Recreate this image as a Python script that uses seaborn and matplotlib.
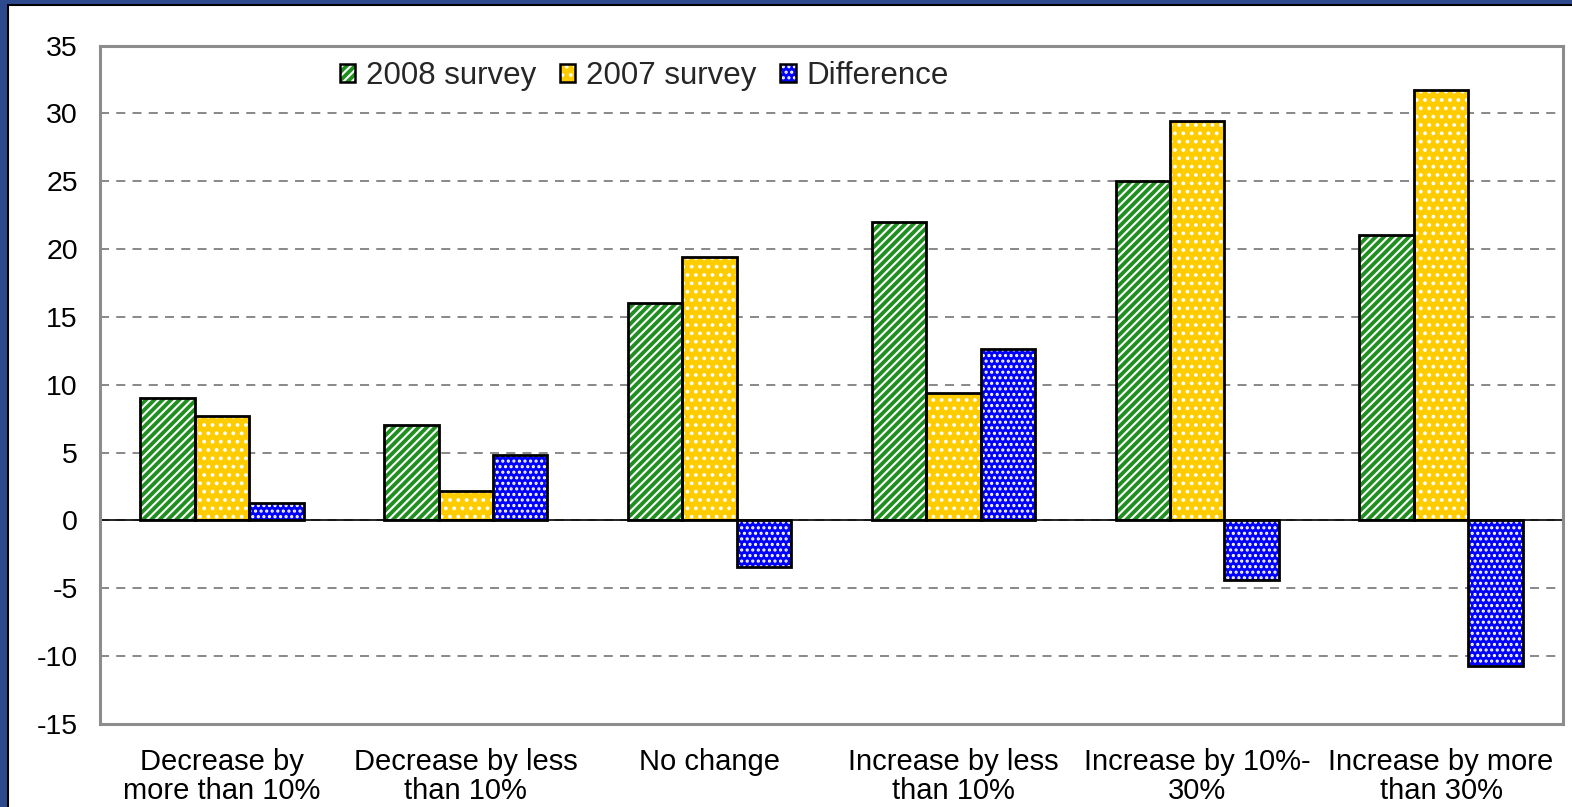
import matplotlib
matplotlib.use("Agg")
import matplotlib.pyplot as plt
from matplotlib.patches import Patch, Rectangle
import pandas as pd
import seaborn as sns

categories = [
    "Decrease by\nmore than 10%",
    "Decrease by less\nthan 10%",
    "No change",
    "Increase by less\nthan 10%",
    "Increase by 10%-\n30%",
    "Increase by more\nthan 30%",
]
series_names = ["2008 survey", "2007 survey", "Difference"]
survey_2008 = [9.0, 7.0, 16.0, 22.0, 25.0, 21.0]
survey_2007 = [7.7, 2.2, 19.4, 9.4, 29.4, 31.7]
difference = [1.3, 4.8, -3.4, 12.6, -4.4, -10.7]
y_ticks = [-15, -10, -5, 0, 5, 10, 15, 20, 25, 30, 35]

colors = ["#1f8f1f", "#ffcc00", "#0000ff"]
hatches = ["////", "..", "..."]

df = pd.DataFrame({
    "category": categories * 3,
    "series": [s for s in series_names for _ in categories],
    "value": survey_2008 + survey_2007 + difference,
})

sns.set_style("white")
plt.rcParams["font.family"] = ["Liberation Sans", "DejaVu Sans"]
plt.rcParams["hatch.linewidth"] = 1.5

fig = plt.figure(figsize=(15.72, 8.07), dpi=100)
fig.patch.set_facecolor("#2e4a8e")
# white slide panel with a thin dark frame on the left and top
W, H = 1572.0, 807.0
panel = Rectangle((8 / W, -0.01), 1.02, (H - 5) / H + 0.01, transform=fig.transFigure,
                  facecolor="white", edgecolor="black", linewidth=1.5, zorder=-5)
fig.add_artist(panel)

ax = fig.add_axes([100 / W, 1 - 724 / H, (1563 - 100) / W, (724 - 45.5) / H])
ax.set_facecolor("white")

sns.barplot(data=df, x="category", y="value", hue="series", hue_order=series_names,
            order=categories, palette=colors, width=0.67, legend=False, ax=ax,
            errorbar=None, saturation=1)

# hatched fills in white, with a black outline drawn on top of every bar
for i, cont in enumerate(ax.containers):
    for bar in cont:
        bar.set_facecolor(colors[i])
        bar.set_edgecolor("white")
        bar.set_linewidth(0)
        bar.set_hatch(hatches[i])
        outline = Rectangle(bar.get_xy(), bar.get_width(), bar.get_height(),
                            fill=False, edgecolor="black", linewidth=2.0, zorder=3)
        ax.add_patch(outline)

ax.set_ylim(-15, 35)
ax.set_yticks(y_ticks)
ax.set_yticklabels([str(t) for t in y_ticks])
ax.set_xlabel("")
ax.set_ylabel("")
ax.tick_params(axis="y", length=0, pad=16, labelsize=20.5, labelcolor="black")
ax.tick_params(axis="x", length=0, pad=17.5, labelsize=21, labelcolor="black")
for lab in ax.get_xticklabels():
    lab.set_linespacing(1.05)

ax.set_axisbelow(True)
ax.yaxis.grid(True, linestyle=(0, (5, 4)), color="#7f7f7f", linewidth=1.3)
ax.axhline(0, color="black", linewidth=1.2, zorder=1.5)

for sp in ax.spines.values():
    sp.set_visible(True)
    sp.set_color("#8c8c8c")
    sp.set_linewidth(2.2)

handles = []
for i, name in enumerate(series_names):
    fill = Patch(facecolor=colors[i], edgecolor="white", linewidth=0, hatch=hatches[i])
    edge = Patch(facecolor="none", edgecolor="black", linewidth=1.8)
    handles.append((fill, edge))
ax.legend(handles, series_names, loc="upper left", bbox_to_anchor=(227 / 1463, 0.996),
          ncol=3, frameon=False, fontsize=22.5, handlelength=0.5, handleheight=0.5,
          handletextpad=0.35, columnspacing=0.75, borderaxespad=0)

fig.savefig("out.png", dpi=100, facecolor=fig.get_facecolor())
